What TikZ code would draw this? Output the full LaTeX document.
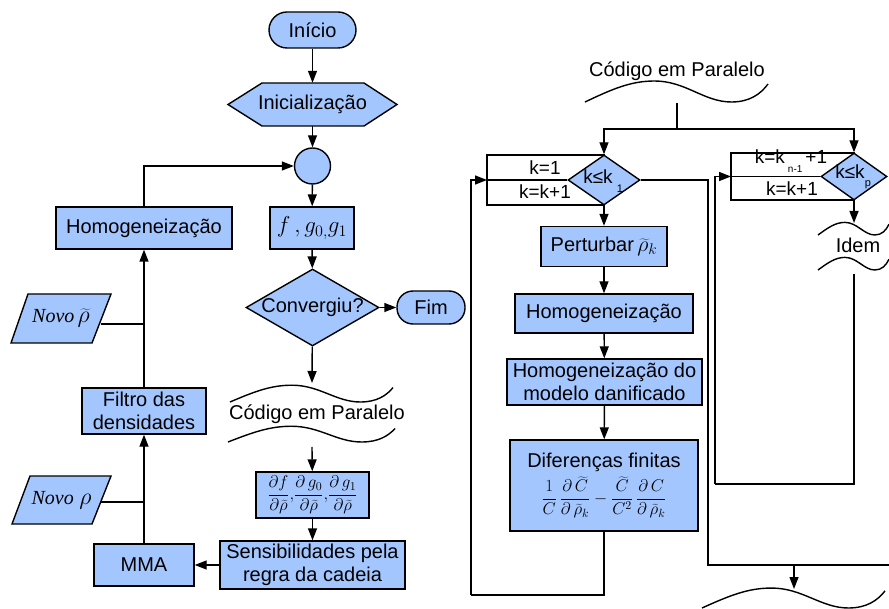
\documentclass[tikz,border=0pt]{standalone}
\usepackage{fix-cm}
\usepackage{fontspec}
\setmainfont{Liberation Sans}
\newfontfamily\timesf{Liberation Serif}
\usetikzlibrary{shapes.geometric,arrows.meta,calc}
\definecolor{boxblue}{RGB}{164,198,255}
\tikzset{
  conn/.style={line width=1.4pt},
  thinconn/.style={line width=1.2pt},
  arr/.style={conn,-{Triangle[length=12pt,width=9pt]}},
  shp/.style={draw,line width=1.4pt,fill=boxblue},
  txt/.style={inner sep=0pt,align=center,font=\fontsize{20}{23}\selectfont},
  ktxt/.style={inner sep=0pt,font=\fontsize{19}{22}\selectfont},
  subtxt/.style={inner sep=0pt,font=\fontsize{11}{12}\selectfont},
  box/.style={shp,txt},
  term/.style={box,rounded corners=16pt},
}
\newcommand{\flowwave}[4]{%
  \begin{scope}[shift={(#1,#2)},xscale=#3,yscale=#4]
    \draw[conn] (0,0) .. controls (0.15,-0.65) and (0.25,-1.05) .. (0.38,-1.05)
      .. controls (0.55,-1.05) and (0.65,0) .. (0.8,0)
      .. controls (0.9,0) and (0.96,-0.4) .. (1,-0.9);
  \end{scope}}
\newcommand{\bigmath}[2]{{\fontsize{#1}{#1}\selectfont$#2$}}
\begin{document}
\begin{tikzpicture}[x=1pt,y=-1pt]
\useasboundingbox (0,0) rectangle (889,609);

% ---------------- left part ----------------
\node[term,minimum width=87pt,minimum height=36pt,rounded corners=18pt] (inicio) at (312.5,30) {Início};
\draw[shp] (228,104.5) -- (262,83) -- (364,83) -- (397,104.5) -- (364,126) -- (262,126) -- cycle;
\node[txt,minimum width=169pt,minimum height=43pt] (ini) at (312.5,104.5) {Inicialização};
\node[shp,circle,minimum size=36pt,inner sep=0pt] (circ) at (312.5,166) {};
\node[box,minimum width=84pt,minimum height=42pt] (fg) at (312,228) {\bigmath{23}{f\,,g_{0,}g_1}};
\node[shp,diamond,minimum width=133pt,minimum height=77pt,inner sep=0pt] (conv) at (312.5,307.5) {};
\node[txt] (convt) at (conv) {Convergiu?};
\node[term,minimum width=68pt,minimum height=33pt] (fim) at (431,307.5) {Fim};
\coordinate (w1) at (312,383);
\flowwave{230}{402}{163}{16}
\node[txt] (cpl) at (317,414) {Código em Paralelo};
\flowwave{228}{442}{167}{15}
\coordinate (w2) at (312,447);
\node[box,minimum width=113pt,minimum height=46pt,font=\fontsize{17}{19}\selectfont] (der) at (312.5,495)
  {$\displaystyle\frac{\partial f}{\partial\widetilde{\rho}}{,}\frac{\partial\, g_0}{\partial\widetilde{\rho}}{,}\frac{\partial\, g_1}{\partial\widetilde{\rho}}$};
\node[box,minimum width=185pt,minimum height=48pt] (sens) at (312.5,565) {Sensibilidades pela\\regra da cadeia};
\node[box,minimum width=100pt,minimum height=42pt] (mma) at (144,565) {MMA};
\node[box,minimum width=124pt,minimum height=46pt] (filtro) at (144,411) {Filtro das\\densidades};
\node[box,minimum width=176pt,minimum height=42pt] (homl) at (144,228) {Homogeneização};

\draw[shp] (28,294) -- (111,294) -- (92,343) -- (11,343) -- cycle;
\node[txt,minimum width=81pt,minimum height=49pt] (nrt) at (61,318.5) {{\timesf\itshape Novo}\,\bigmath{24}{\widetilde{\rho}}};
\draw[shp] (30,476) -- (111,476) -- (92,524) -- (12,524) -- cycle;
\node[txt,minimum width=81pt,minimum height=48pt] (nr) at (61.5,500) {{\timesf\itshape Novo}\;\bigmath{24}{\rho}};

\draw[arr] (inicio) -- (ini);
\draw[arr] (ini) -- (circ);
\draw[arr] (circ) -- (fg);
\draw[arr] (fg) -- (conv);
\draw[arr] (conv) -- (fim);
\draw[arr] (conv) -- (w1);
\draw[arr] (w2) -- (der);
\draw[arr] (der) -- (sens);
\draw[arr] (sens) -- (mma);
\draw[arr] (mma) -- (filtro);
\draw[arr] (filtro) -- (homl);
\draw[arr] (homl.north) |- (circ.west);
\coordinate (nrtx) at ($(nrt.east)+(-0.5,5.5)$);
\draw[conn] (nrtx) -- (nrtx -| homl.south);
\coordinate (nrx) at ($(nr.east)+(-1,2)$);
\draw[conn] (nrx) -- (nrx -| mma.north);

% ---------------- right part ----------------
\node[txt] (cpr) at (677,71) {Código em Paralelo};
\flowwave{585}{102}{183}{20}
\coordinate (rt) at (677,103);
\coordinate (rj) at (677,129);

% first loop head
\draw[thinconn] (487,155) rectangle (604,205);
\node[shp,diamond,minimum width=72pt,minimum height=50pt,inner sep=0pt] (d1) at (604,180) {};
\coordinate (b1in) at (487,180);
\draw[thinconn] (b1in) -- (d1.west);
\node[ktxt] (d1t) at (598,177) {k≤k};
\node[subtxt] (d1s) at (620,189) {1};
\node[ktxt] (k1a) at (545,168) {k=1};
\node[ktxt] (k1b) at (545,192) {k=k+1};

% second loop head
\draw[thinconn] (731,153) rectangle (854,200);
\node[shp,diamond,minimum width=66pt,minimum height=47pt,inner sep=0pt] (d2) at (854,176.5) {};
\coordinate (b2in) at (731,176.5);
\draw[thinconn] (b2in) -- (d2.west);
\node[ktxt] (d2t) at (850,172) {k≤k};
\node[subtxt] (d2s) at (868,185) {p};
\node[ktxt] (k2a) at (791,161) {k=k\hspace{3pt}\raisebox{-9pt}{\fontsize{10}{10}\selectfont n-1}\hspace{3pt}+1};
\node[ktxt] (k2b) at (792,189) {k=k+1};

\draw[conn] (rt) -- (rj);
\draw[arr] (rj) -| (d1.north);
\draw[arr] (rj) -| (d2.north);

\node[box,minimum width=126pt,minimum height=40pt] (pert) at (604,246.5) {Perturbar\,\bigmath{22}{\widetilde{\rho}_k}};
\node[box,minimum width=178pt,minimum height=39pt] (hom2) at (604,313.5) {Homogeneização};
\node[box,minimum width=195pt,minimum height=46pt] (homd) at (604.5,382) {Homogeneização do\\modelo danificado};
\node[box,minimum width=188pt,minimum height=91pt] (dif) at (604,485.5)
  {Diferenças finitas\\[4pt]{\fontsize{17}{19}\selectfont$\displaystyle\frac{1}{C}\,\frac{\partial\,\widetilde{C}}{\partial\,\widetilde{\rho}_k}-\frac{\widetilde{C}}{C^2}\,\frac{\partial\, C}{\partial\,\widetilde{\rho}_k}$}};

\draw[arr] (d1) -- (pert);
\draw[arr] (pert) -- (hom2);
\draw[arr] (hom2) -- (homd);
\draw[arr] (homd) -- (dif);

% loop back of first branch
\coordinate (l1a) at (471,595);
\draw[conn] (dif.south) |- (l1a);
\draw[arr] (l1a) |- (b1in);

% exit of first branch
\coordinate (xr) at (708,565);
\coordinate (xe) at (889,565);
\draw[conn] (d1.east) -| (xr) -- (xe);
\coordinate (jb) at (794,565);
\coordinate (jbt) at (794,589);
\draw[arr] (jb) -- (jbt);
\flowwave{702}{608}{183}{19}

% second branch
\coordinate (id1) at (854,223);
\draw[arr] (d2.south) -- (id1);
\flowwave{818}{235}{71}{12}
\node[txt] (idem) at (858,245) {Idem};
\flowwave{818}{270}{71}{12}
\coordinate (id2) at (854,274);
\coordinate (l2a) at (715,484);
\draw[conn] (id2) |- (l2a);
\draw[arr] (l2a) |- (b2in);
\end{tikzpicture}
\end{document}
